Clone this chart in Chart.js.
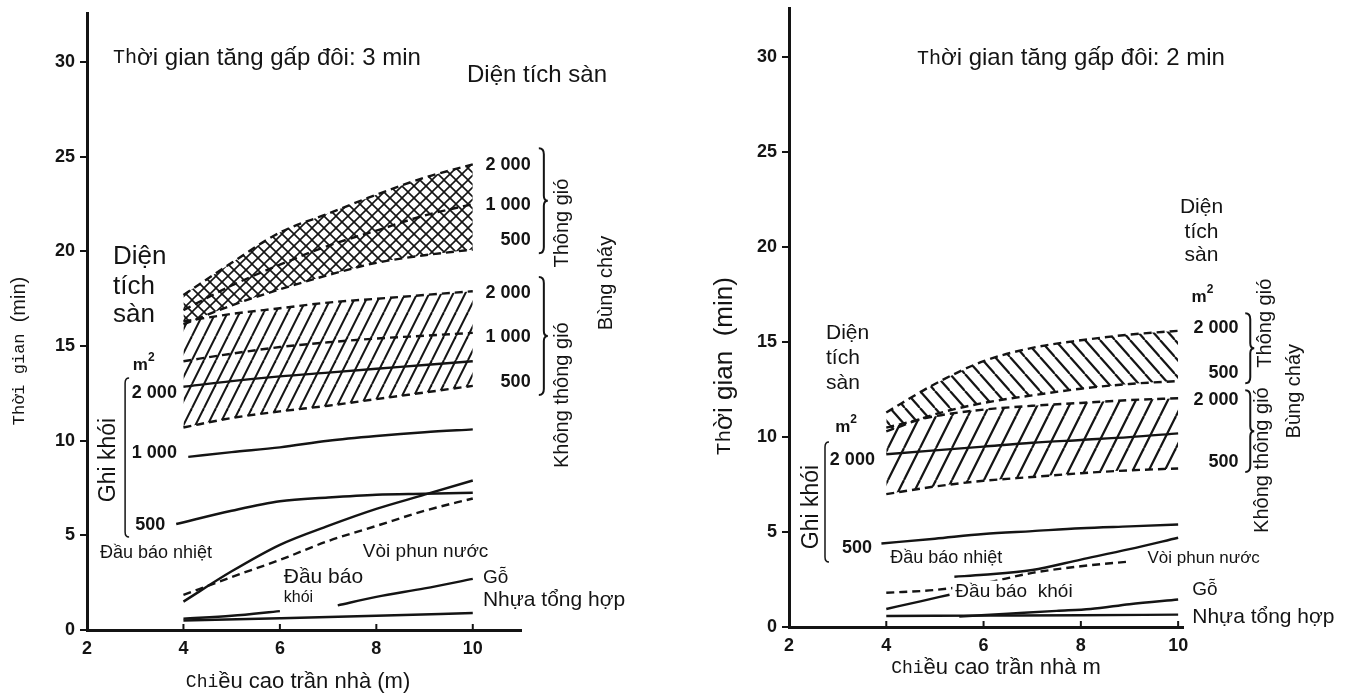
<!DOCTYPE html>
<html>
<head>
<meta charset="utf-8">
<script src="https://cdn.jsdelivr.net/npm/chart.js@4.4.1/dist/chart.umd.min.js"></script>
<style>
  html, body { margin: 0; background: #fff; }
  .wrap { position: relative; width: 1349px; height: 695px; }
  canvas { position: absolute; top: 0; }
</style>
</head>
<body>
<div class="wrap">
  <canvas id="left" width="680" height="695" style="left:0"></canvas>
  <canvas id="right" width="669" height="695" style="left:680px"></canvas>
</div>
<script>
// tick labels (both charts)
const xTicks = [2, 4, 6, 8, 10];
const yTicks = [0, 5, 10, 15, 20, 25, 30];

// left chart: doubling time 3 min  ([ceiling height m, time min])
const leftVent2000 = [[4, 17.7], [5, 19.4], [6, 21.0], [7, 22.0], [8, 23.0], [9, 23.9], [10, 24.6]];
const leftVent1000 = [[4, 16.9], [5, 18.2], [6, 19.3], [7, 20.3], [8, 21.1], [9, 21.9], [10, 22.5]];
const leftVent500 = [[4, 16.15], [5, 17.15], [6, 18.0], [7, 18.75], [8, 19.4], [9, 19.8], [10, 20.1]];
const leftUnvent2000 = [[4, 16.3], [5, 16.7], [6, 17.0], [7, 17.3], [8, 17.5], [9, 17.7], [10, 17.9]];
const leftUnvent1000 = [[4, 14.2], [5, 14.6], [6, 14.95], [7, 15.2], [8, 15.4], [9, 15.55], [10, 15.7]];
const leftUnvent500 = [[4, 10.7], [5, 11.2], [6, 11.55], [7, 11.85], [8, 12.2], [9, 12.55], [10, 12.9]];
const leftSmoke2000 = [[4, 12.85], [5, 13.15], [6, 13.4], [7, 13.6], [8, 13.8], [9, 14.0], [10, 14.2]];
const leftSmoke1000 = [[4.1, 9.15], [5, 9.4], [6, 9.65], [7, 10.0], [8, 10.25], [9, 10.45], [10, 10.6]];
const leftSmoke500 = [[3.85, 5.6], [5, 6.3], [6, 6.8], [7, 7.0], [8, 7.15], [9, 7.2], [10, 7.25]];
const leftHeat = [[4, 1.5], [5, 3.1], [6, 4.5], [7, 5.5], [8, 6.4], [9, 7.15], [10, 7.9]];
const leftSprinkler = [[4, 1.85], [5, 2.8], [6, 3.7], [7, 4.7], [8, 5.5], [9, 6.3], [10, 6.95]];
const leftWood = [[4, 0.6], [5, 0.75], [6, 1.0], [6.6, null], [7.2, 1.3], [8, 1.75], [9, 2.2], [10, 2.7]];
const leftPlastic = [[4, 0.5], [6, 0.62], [8, 0.75], [10, 0.9]];

// right chart: doubling time 2 min
const rightVent2000 = [[4, 11.3], [5, 12.8], [6, 14.0], [7, 14.7], [8, 15.1], [9, 15.4], [10, 15.6]];
const rightVent500 = [[4, 10.3], [5, 11.2], [6, 11.8], [7, 12.2], [8, 12.55], [9, 12.8], [10, 12.95]];
const rightUnvent2000 = [[4, 10.5], [5, 11.1], [6, 11.45], [7, 11.65], [8, 11.8], [9, 11.95], [10, 12.05]];
const rightUnvent500 = [[4, 7.0], [5, 7.4], [6, 7.7], [7, 7.9], [8, 8.1], [9, 8.25], [10, 8.35]];
const rightSmoke2000 = [[4, 9.1], [5, 9.3], [6, 9.5], [7, 9.7], [8, 9.85], [9, 10.0], [10, 10.2]];
const rightSmoke500 = [[3.9, 4.4], [5, 4.65], [6, 4.9], [7, 5.05], [8, 5.2], [9, 5.3], [10, 5.4]];
const rightHeat = [[5.4, 2.65], [6, 2.75], [7, 3.0], [8, 3.55], [9, 4.1], [10, 4.7]];
const rightSprinkler = [[4, 1.8], [5, 1.95], [6, 2.3], [7, 2.85], [8, 3.2], [9, 3.45]];
const rightSmokeDet = [[4, 0.95], [4.7, 1.35], [5.3, 1.7]];
const rightWood = [[5.5, 0.55], [6.5, 0.7], [7.5, 0.85], [8.2, 0.95], [9, 1.2], [10, 1.45]];
const rightPlastic = [[4, 0.58], [6, 0.6], [8, 0.62], [10, 0.65]];

const INK = '#141414';
const SANS = '"Liberation Sans", Arial, sans-serif';
const MONO = '"Liberation Mono", "Courier New", monospace';

function hatch(ctx, w, h, dirs, lw) {
  const c = document.createElement('canvas');
  c.width = w; c.height = h;
  const g = c.getContext('2d');
  g.strokeStyle = INK; g.lineWidth = lw;
  dirs.forEach(d => {
    [-w, 0, w].forEach(o => {
      g.beginPath();
      if (d === '/') { g.moveTo(o, h); g.lineTo(o + w, 0); }
      else { g.moveTo(o, 0); g.lineTo(o + w, h); }
      g.stroke();
    });
  });
  return ctx.createPattern(c, 'repeat');
}

function line(data, dashed, fill, bg) {
  return {
    data,
    borderColor: INK,
    borderWidth: 2.4,
    borderDash: dashed ? [8, 5] : [],
    fill: fill || false,
    backgroundColor: bg || 'transparent',
    pointRadius: 0,
    cubicInterpolationMode: 'monotone'
  };
}

function fontOf(p) {
  if (p[2] === 'm') return `${p[1]}px ${MONO}`;
  return `${p[2] === 'b' ? 'bold ' : ''}${p[1]}px ${SANS}`;
}

function drawNote(ctx, n, px, py) {
  const parts = n.parts || [[n.t, n.size || 16, n.bold ? 'b' : '']];
  let w = 0;
  const widths = parts.map(p => { ctx.font = fontOf(p); const m = ctx.measureText(p[0]).width; w += m; return m; });
  ctx.save();
  ctx.translate(px, py);
  if (n.rot) ctx.rotate(-Math.PI / 2);
  const align = n.rot ? 'center' : (n.align || 'left');
  let cx = align === 'center' ? -w / 2 : align === 'right' ? -w : 0;
  if (n.bg) {
    const h = Math.max(...parts.map(p => p[1])) * 1.2;
    ctx.fillStyle = '#fff';
    ctx.fillRect(cx - 3, -h / 2, w + 6, h);
  }
  ctx.fillStyle = INK;
  ctx.textBaseline = 'middle';
  ctx.textAlign = 'left';
  parts.forEach((p, i) => { ctx.font = fontOf(p); ctx.fillText(p[0], cx, p[3] || 0); cx += widths[i]; });
  ctx.restore();
}

function drawBrace(ctx, kind, x, y1, y2) {
  const m = (y1 + y2) / 2;
  ctx.save();
  ctx.lineWidth = kind === '}' ? 2 : 1.5;
  ctx.beginPath();
  if (kind === '}') {
    ctx.moveTo(x, y1);
    ctx.quadraticCurveTo(x + 5, y1, x + 5, y1 + 6);
    ctx.lineTo(x + 5, m - 5);
    ctx.quadraticCurveTo(x + 5, m, x + 9, m);
    ctx.quadraticCurveTo(x + 5, m, x + 5, m + 5);
    ctx.lineTo(x + 5, y2 - 6);
    ctx.quadraticCurveTo(x + 5, y2, x, y2);
  } else {
    ctx.moveTo(x + 4, y1);
    ctx.quadraticCurveTo(x, y1, x, y1 + 5);
    ctx.lineTo(x, y2 - 5);
    ctx.quadraticCurveTo(x, y2, x + 4, y2);
  }
  ctx.stroke();
  ctx.restore();
}

// texts, braces and the inward x tick marks
const notesPlugin = {
  id: 'notes',
  afterDraw(chart, args, opts) {
    const { ctx, chartArea, scales: { x, y } } = chart;
    ctx.save();
    ctx.strokeStyle = INK;
    ctx.lineWidth = 2;
    xTicks.slice(1).forEach(v => {
      const px = x.getPixelForValue(v);
      ctx.beginPath();
      ctx.moveTo(px, chartArea.bottom);
      ctx.lineTo(px, chartArea.bottom - 6);
      ctx.stroke();
    });
    opts.items.forEach(n => {
      const px = x.getPixelForValue(n.x);
      if (n.brace) drawBrace(ctx, n.brace, px, y.getPixelForValue(n.y1), y.getPixelForValue(n.y2));
      else drawNote(ctx, n, px, y.getPixelForValue(n.y));
    });
    ctx.restore();
  }
};

function makeChart(id, datasets, cfg) {
  const tickFont = { family: SANS, size: 18, weight: 'bold' };
  return new Chart(document.getElementById(id), {
    type: 'line',
    data: { datasets },
    options: {
      responsive: false,
      animation: false,
      layout: { padding: { left: 0, top: cfg.padTop, right: cfg.padRight, bottom: 0 } },
      plugins: { legend: { display: false }, tooltip: { enabled: false }, notes: { items: cfg.notes } },
      scales: {
        x: {
          type: 'linear', min: 2, max: cfg.xMax,
          afterBuildTicks: s => { s.ticks = xTicks.map(v => ({ value: v })); },
          afterFit: s => { s.height = cfg.xAxisH; s.paddingLeft = 0; s.paddingRight = 0; },
          grid: { display: false, drawTicks: false },
          border: { color: INK, width: 3 },
          ticks: { color: INK, font: tickFont, padding: 8 }
        },
        y: {
          type: 'linear', min: 0, max: cfg.yMax,
          afterBuildTicks: s => { s.ticks = yTicks.map(v => ({ value: v })); },
          afterFit: s => { s.width = cfg.yAxisW; s.paddingTop = 0; s.paddingBottom = 0; },
          grid: { drawOnChartArea: false, tickLength: 7, color: INK, lineWidth: 2 },
          border: { color: INK, width: 3 },
          ticks: { color: INK, font: tickFont, padding: 5 }
        }
      }
    },
    plugins: [notesPlugin]
  });
}

const m2 = [['m', 17, 'b'], ['2', 12, 'b', -7]];
const num = (x, y, t, align) => ({ x, y, t, size: 18, bold: true, align: align || 'left' });

const leftNotes = [
  { x: 2.54, y: 30.22, parts: [['Th', 20, 'm'], ['ời gian tăng gấp đôi: 3 min', 24]] },
  { x: 9.88, y: 29.32, t: 'Diện tích sàn', size: 24 },
  num(11.2, 24.56, '2 000', 'right'),
  num(11.2, 22.45, '1 000', 'right'),
  num(11.2, 20.6, '500', 'right'),
  num(11.2, 17.8, '2 000', 'right'),
  num(11.2, 15.48, '1 000', 'right'),
  num(11.2, 13.1, '500', 'right'),
  { brace: '}', x: 11.37, y1: 25.46, y2: 19.9 },
  { brace: '}', x: 11.37, y1: 18.65, y2: 12.41 },
  { x: 11.87, y: 21.5, t: 'Thông gió', size: 20, rot: true },
  { x: 12.78, y: 18.33, t: 'Bùng cháy', size: 20, rot: true },
  { x: 11.85, y: 12.41, t: 'Không thông gió', size: 20, rot: true },
  { x: 2.54, y: 19.7, t: 'Diện', size: 26 },
  { x: 2.54, y: 18.12, t: 'tích', size: 26 },
  { x: 2.54, y: 16.64, t: 'sàn', size: 26 },
  { x: 2.95, y: 14.0, parts: m2 },
  num(2.93, 12.52, '2 000'),
  num(2.93, 9.35, '1 000'),
  num(3.0, 5.55, '500'),
  { brace: '[', x: 2.79, y1: 13.31, y2: 4.91 },
  { x: 2.44, y: 8.98, t: 'Ghi khói', size: 23, rot: true },
  { x: 2.27, y: 4.07, t: 'Đầu báo nhiệt', size: 18, bg: true },
  { x: 7.72, y: 4.12, t: 'Vòi phun nước', size: 19, bg: true },
  { x: 6.08, y: 2.8, t: 'Đầu báo', size: 21, bg: true },
  { x: 6.08, y: 1.69, t: 'khói', size: 16, bg: true },
  { x: 10.21, y: 2.75, t: 'Gỗ', size: 19 },
  { x: 10.21, y: 1.58, t: 'Nhựa tổng hợp', size: 21 },
  { x: 4.05, y: -2.75, parts: [['Chi', 18, 'm'], ['ều cao trần nhà (m)', 22]] },
  { x: 0.61, y: 14.74, rot: true, parts: [['Thời gian', 17, 'm'], ['  (min)', 20]] }
];

const rightNotes = [
  { x: 4.63, y: 29.95, parts: [['Th', 20, 'm'], ['ời gian tăng gấp đôi: 2 min', 24]] },
  { x: 10.48, y: 22.1, t: 'Diện', size: 21, align: 'center' },
  { x: 10.48, y: 20.79, t: 'tích', size: 21, align: 'center' },
  { x: 10.48, y: 19.58, t: 'sàn', size: 21, align: 'center' },
  { x: 10.5, y: 17.37, parts: m2, align: 'center' },
  num(11.24, 15.74, '2 000', 'right'),
  num(11.24, 13.37, '500', 'right'),
  num(11.24, 11.95, '2 000', 'right'),
  num(11.24, 8.68, '500', 'right'),
  { brace: '}', x: 11.38, y1: 16.53, y2: 12.84 },
  { brace: '}', x: 11.38, y1: 12.47, y2: 8.16 },
  { x: 11.79, y: 16.0, t: 'Thông gió', size: 20, rot: true },
  { x: 12.39, y: 12.42, t: 'Bùng cháy', size: 20, rot: true },
  { x: 11.73, y: 8.79, t: 'Không thông gió', size: 20, rot: true },
  { x: 2.76, y: 15.47, t: 'Diện', size: 21 },
  { x: 2.76, y: 14.16, t: 'tích', size: 21 },
  { x: 2.76, y: 12.84, t: 'sàn', size: 21 },
  { x: 2.95, y: 10.53, parts: m2 },
  num(2.84, 8.79, '2 000'),
  num(3.09, 4.16, '500'),
  { brace: '[', x: 2.74, y1: 9.74, y2: 3.42 },
  { x: 2.47, y: 6.32, t: 'Ghi khói', size: 23, rot: true },
  { x: 4.08, y: 3.63, t: 'Đầu báo nhiệt', size: 18, bg: true },
  { x: 9.37, y: 3.63, t: 'Vòi phun nước', size: 17, bg: true },
  { x: 5.42, y: 1.84, t: 'Đầu báo  khói', size: 19, bg: true },
  { x: 10.29, y: 1.95, t: 'Gỗ', size: 19 },
  { x: 10.29, y: 0.53, t: 'Nhựa tổng hợp', size: 21 },
  { x: 4.1, y: -2.16, parts: [['Chi', 18, 'm'], ['ều cao trần nhà m', 22]] },
  { x: 0.68, y: 13.74, rot: true, parts: [['Th', 21, 'm'], ['ời gian  (min)', 26]] }
];

const lctx = document.getElementById('left').getContext('2d');
const rctx = document.getElementById('right').getContext('2d');

makeChart('left', [
  line(leftVent2000, true, '+2', hatch(lctx, 12, 12, ['/', '\\'], 1.6)),
  line(leftVent1000, true),
  line(leftVent500, true),
  line(leftUnvent2000, true, '+2', hatch(lctx, 12, 24, ['/'], 2)),
  line(leftUnvent1000, true),
  line(leftUnvent500, true),
  line(leftSmoke2000),
  line(leftSmoke1000),
  line(leftSmoke500),
  line(leftHeat),
  line(leftSprinkler, true),
  line(leftWood),
  line(leftPlastic)
], { xMax: 11, yMax: 32.6, padTop: 13, padRight: 159, xAxisH: 65, yAxisW: 87, notes: leftNotes });

makeChart('right', [
  line(rightVent2000, true, '+1', hatch(rctx, 15, 17, ['\\'], 2.2)),
  line(rightVent500, true),
  line(rightUnvent2000, true, '+1', hatch(rctx, 16, 32, ['/'], 2.2)),
  line(rightUnvent500, true),
  line(rightSmoke2000),
  line(rightSmoke500),
  line(rightHeat),
  line(rightSprinkler, true),
  line(rightSmokeDet),
  line(rightWood),
  line(rightPlastic)
], { xMax: 10.1, yMax: 32.6, padTop: 8, padRight: 166, xAxisH: 68, yAxisW: 109, notes: rightNotes });
</script>
</body>
</html>
